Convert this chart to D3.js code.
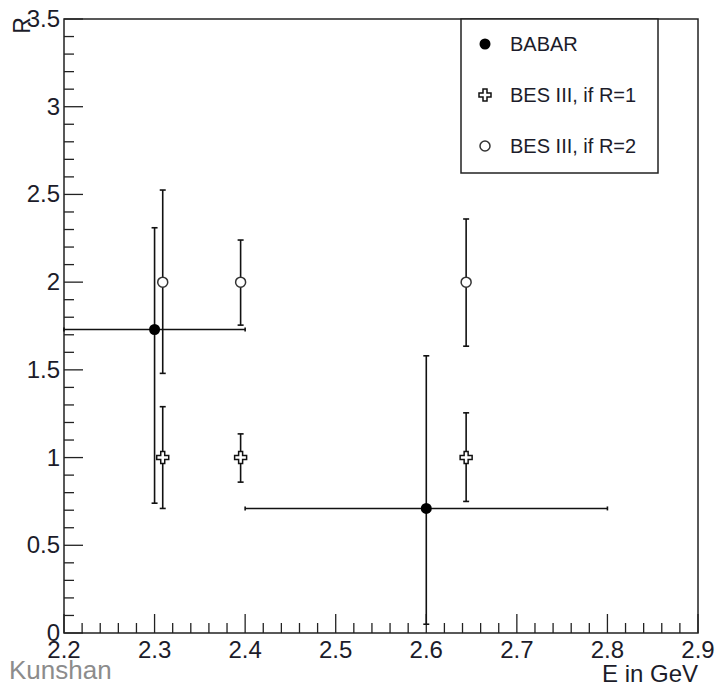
<!DOCTYPE html>
<html>
<head>
<meta charset="utf-8">
<script src="https://cdnjs.cloudflare.com/ajax/libs/d3/7.8.5/d3.min.js"></script>
<style>
  body { margin: 0; background: #fff; }
  text { font-family: "Liberation Sans", Arial, sans-serif; fill: #1c1c2a; }
</style>
</head>
<body>
<svg id="chart" width="715" height="687"></svg>
<script>
// BABAR points: x, y, x-error range, y-error range
var babarE = [2.3, 2.6];
var babarR = [1.73, 0.71];
var babarELo = [2.2, 2.4];
var babarEHi = [2.4, 2.8];
var babarRLo = [0.74, 0.05];
var babarRHi = [2.31, 1.58];

// BES III projections
var besE = [2.309, 2.395, 2.644];
var besR1 = [1, 1, 1];
var besR1Lo = [0.71, 0.86, 0.75];
var besR1Hi = [1.29, 1.135, 1.255];
var besR2 = [2, 2, 2];
var besR2Lo = [1.48, 1.755, 1.635];
var besR2Hi = [2.525, 2.24, 2.36];

var xTicks = [2.2, 2.3, 2.4, 2.5, 2.6, 2.7, 2.8, 2.9];
var yTicks = [0, 0.5, 1, 1.5, 2, 2.5, 3, 3.5];
var legendLabels = ["BABAR", "BES III, if R=1", "BES III, if R=2"];

var svg = d3.select("#chart");
var fLeft = 64, fRight = 698, fTop = 19, fBottom = 633;

var x = d3.scaleLinear().domain([2.2, 2.9]).range([fLeft, fRight]);
var y = d3.scaleLinear().domain([0, 3.5]).range([fBottom, fTop]);

// frame
svg.append("rect")
    .attr("x", fLeft).attr("y", fTop)
    .attr("width", fRight - fLeft).attr("height", fBottom - fTop)
    .attr("fill", "none").attr("stroke", "#222").attr("stroke-width", 1.5);

// x axis: major + minor ticks
var xMinor = d3.range(0, 36).map(function(i) { return 2.2 + i * 0.02; });
svg.append("g").selectAll("line").data(xMinor).enter().append("line")
    .attr("x1", function(d) { return x(d); }).attr("x2", function(d) { return x(d); })
    .attr("y1", fBottom)
    .attr("y2", function(d, i) { return i % 5 == 0 ? fBottom - 19 : fBottom - 10; })
    .attr("stroke", "#222").attr("stroke-width", 1.3);

svg.append("g").selectAll("text").data(xTicks).enter().append("text")
    .attr("x", function(d) { return x(d); })
    .attr("y", 658)
    .attr("text-anchor", "middle")
    .attr("font-size", 24)
    .text(function(d) { return d3.format(".1f")(d); });

// y axis
var yMinor = d3.range(0, 36).map(function(i) { return i * 0.1; });
svg.append("g").selectAll("line").data(yMinor).enter().append("line")
    .attr("y1", function(d) { return y(d); }).attr("y2", function(d) { return y(d); })
    .attr("x1", fLeft)
    .attr("x2", function(d, i) { return i % 5 == 0 ? fLeft + 19 : fLeft + 10; })
    .attr("stroke", "#222").attr("stroke-width", 1.3);

svg.append("g").selectAll("text").data(yTicks).enter().append("text")
    .attr("x", fLeft - 4)
    .attr("y", function(d) { return y(d) + 8; })
    .attr("text-anchor", "end")
    .attr("font-size", 24)
    .text(function(d) { return d3.format("")(d); });

// axis titles
svg.append("text")
    .attr("transform", "translate(30,17) rotate(-90)")
    .attr("text-anchor", "end")
    .attr("font-size", 23)
    .text("R");

svg.append("text")
    .attr("x", fRight).attr("y", 682)
    .attr("text-anchor", "end")
    .attr("font-size", 24)
    .text("E in GeV");

svg.append("text")
    .attr("x", 9).attr("y", 679)
    .attr("font-family", "'Open Sans', sans-serif")
    .attr("font-size", 26)
    .style("fill", "#8c8c8c")
    .text("Kunshan");

var g = svg.append("g").attr("stroke", "#111").attr("stroke-width", 1.6);

function vErr(xv, lo, hi) {
    g.append("line").attr("x1", x(xv)).attr("x2", x(xv)).attr("y1", y(lo)).attr("y2", y(hi));
    g.append("line").attr("x1", x(xv) - 3).attr("x2", x(xv) + 3).attr("y1", y(lo)).attr("y2", y(lo));
    g.append("line").attr("x1", x(xv) - 3).attr("x2", x(xv) + 3).attr("y1", y(hi)).attr("y2", y(hi));
}
function hErr(yv, lo, hi) {
    g.append("line").attr("x1", x(lo)).attr("x2", x(hi)).attr("y1", y(yv)).attr("y2", y(yv));
    g.append("line").attr("x1", x(lo)).attr("x2", x(lo)).attr("y1", y(yv) - 2).attr("y2", y(yv) + 2);
    g.append("line").attr("x1", x(hi)).attr("x2", x(hi)).attr("y1", y(yv) - 2).attr("y2", y(yv) + 2);
}

// BES III error bars
besE.forEach(function(e, i) {
    vErr(e, besR1Lo[i], besR1Hi[i]);
    vErr(e, besR2Lo[i], besR2Hi[i]);
});
// BABAR error bars
babarE.forEach(function(e, i) {
    vErr(e, babarRLo[i], babarRHi[i]);
    hErr(babarR[i], babarELo[i], babarEHi[i]);
});

// marker shapes
var crossPath = "M-2,-6H2V-2H6V2H2V6H-2V2H-6V-2H-2Z";

function drawCross(sel, cx, cy) {
    sel.append("path").attr("d", crossPath)
        .attr("transform", "translate(" + cx + "," + cy + ")")
        .attr("fill", "#fff").attr("stroke", "#111").attr("stroke-width", 1.5);
}
function drawOpen(sel, cx, cy) {
    sel.append("circle").attr("cx", cx).attr("cy", cy).attr("r", 5)
        .attr("fill", "#fff").attr("stroke", "#333").attr("stroke-width", 1.5);
}
function drawFilled(sel, cx, cy) {
    sel.append("circle").attr("cx", cx).attr("cy", cy).attr("r", 5.5).attr("fill", "#000");
}

var m = svg.append("g");
besE.forEach(function(e, i) {
    drawCross(m, x(e), y(besR1[i]));
    drawOpen(m, x(e), y(besR2[i]));
});
babarE.forEach(function(e, i) {
    drawFilled(m, x(e), y(babarR[i]));
});

// legend
var lg = svg.append("g");
lg.append("rect").attr("x", 461).attr("y", 19).attr("width", 197).attr("height", 154)
    .attr("fill", "#fff").attr("stroke", "#222").attr("stroke-width", 1.5);
var rows = [44, 95, 146];
drawFilled(lg, 485, rows[0]);
drawCross(lg, 485, rows[1]);
drawOpen(lg, 485, rows[2]);
lg.selectAll("text").data(legendLabels).enter().append("text")
    .attr("x", 510)
    .attr("y", function(d, i) { return rows[i] + 7; })
    .attr("font-size", 20)
    .text(function(d) { return d; });
</script>
</body>
</html>
